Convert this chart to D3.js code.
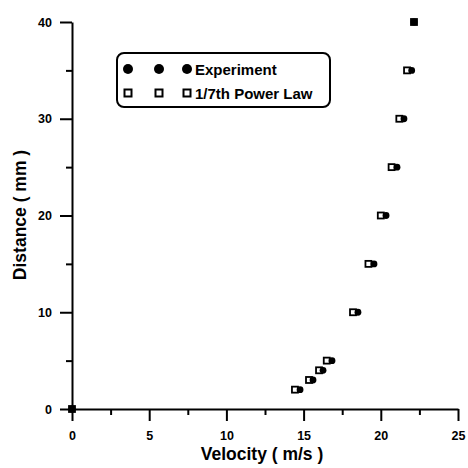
<!DOCTYPE html>
<html>
<head>
<meta charset="utf-8">
<script src="https://cdn.jsdelivr.net/npm/d3@7"></script>
<style>
  body { margin: 0; background: #fff; }
  text { font-family: "Liberation Sans", Arial, sans-serif; font-weight: bold; fill: #000; }
</style>
</head>
<body>
<script>

const width = 468;
const height = 468;

// data
const distance   = [0, 2, 3, 4, 5, 10, 15, 20, 25, 30, 35, 40];
const experiment = [0, 14.77, 15.61, 16.26, 16.84, 18.52, 19.56, 20.34, 21.05, 21.5, 22.0, 22.15];
const powerLaw   = [0, 14.44, 15.35, 16.0, 16.5, 18.2, 19.2, 20.0, 20.7, 21.2, 21.7, 22.15];

const xMajor = [0, 5, 10, 15, 20, 25];
const xMinor = [2.5, 7.5, 12.5, 17.5, 22.5];
const yMajor = [0, 10, 20, 30, 40];
const yMinor = [5, 15, 25, 35];

const seriesNames = ['Experiment', '1/7th Power Law'];

let svg = d3.select('body').append('svg')
            .attr('width', width)
            .attr('height', height);

const x = d3.scaleLinear().domain([0, 25]).range([72, 458]);
const y = d3.scaleLinear().domain([0, 40]).range([409, 22]);

// minor ticks
svg.append('g')
    .attr('transform', `translate(0,${y(0)})`)
    .call(d3.axisBottom(x).tickValues(xMinor).tickSize(6).tickFormat(''))
    .call(g => g.select('.domain').remove());
svg.append('g')
    .attr('transform', `translate(${x(0)},0)`)
    .call(d3.axisLeft(y).tickValues(yMinor).tickSize(6).tickFormat(''))
    .call(g => g.select('.domain').remove());

let xAxis = svg.append('g')
    .attr('transform', `translate(0,${y(0)})`)
    .call(d3.axisBottom(x).tickValues(xMajor).tickSize(12).tickSizeOuter(0).tickPadding(10));

let yAxis = svg.append('g')
    .attr('transform', `translate(${x(0)},0)`)
    .call(d3.axisLeft(y).tickValues(yMajor).tickSize(12).tickSizeOuter(0).tickPadding(8));

svg.selectAll('.domain, .tick line')
    .attr('stroke', '#000')
    .attr('stroke-width', 2);

svg.selectAll('.tick text')
    .style('font-size', '12.5px')
    .style('font-family', '"Liberation Sans", Arial, sans-serif')
    .style('font-weight', 'bold')
    .attr('fill', '#000');

// axis titles
svg.append('text')
    .attr('x', 262)
    .attr('y', 460)
    .attr('text-anchor', 'middle')
    .style('font-size', '17.5px')
    .text('Velocity ( m/s )');

svg.append('text')
    .attr('transform', 'translate(26,215) rotate(-90)')
    .attr('text-anchor', 'middle')
    .style('font-size', '17.5px')
    .text('Distance ( mm )');

// points
const pts = distance.map((d, i) => ({d: d, e: experiment[i], p: powerLaw[i]}));

svg.selectAll('rect.pl')
    .data(pts)
    .enter()
    .append('rect')
    .attr('class', 'pl')
    .attr('x', d => x(d.p) - 3)
    .attr('y', d => y(d.d) - 3)
    .attr('width', 6)
    .attr('height', 6)
    .attr('fill', '#fff')
    .attr('stroke', '#000')
    .attr('stroke-width', 1.8);

svg.selectAll('circle.exp')
    .data(pts)
    .enter()
    .append('circle')
    .attr('class', 'exp')
    .attr('cx', d => x(d.e))
    .attr('cy', d => y(d.d))
    .attr('r', 3.4)
    .attr('fill', '#000');

// legend
let legend = svg.append('g');
legend.append('rect')
    .attr('x', 117)
    .attr('y', 53)
    .attr('width', 213)
    .attr('height', 54)
    .attr('rx', 7)
    .attr('fill', 'none')
    .attr('stroke', '#000')
    .attr('stroke-width', 2);

const legX = [128, 159, 187];
legend.selectAll('circle')
    .data(legX)
    .enter()
    .append('circle')
    .attr('cx', d => d)
    .attr('cy', 69)
    .attr('r', 5)
    .attr('fill', '#000');

legend.selectAll('rect.sq')
    .data(legX)
    .enter()
    .append('rect')
    .attr('class', 'sq')
    .attr('x', d => d - 3.5)
    .attr('y', 89.5)
    .attr('width', 7)
    .attr('height', 7)
    .attr('fill', '#fff')
    .attr('stroke', '#000')
    .attr('stroke-width', 2);

legend.selectAll('text')
    .data(seriesNames)
    .enter()
    .append('text')
    .attr('x', 195)
    .attr('y', (d, i) => 74.5 + i * 24)
    .style('font-size', '15px')
    .text(d => d);

</script>
</body>
</html>
